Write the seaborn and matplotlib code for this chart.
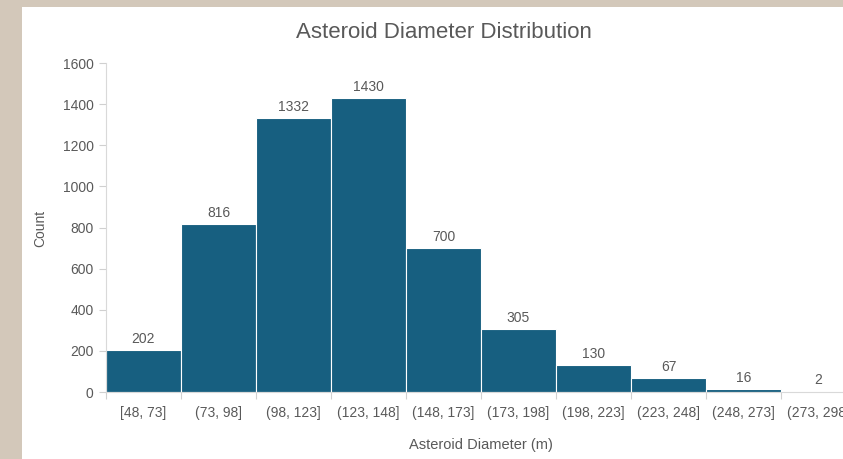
import matplotlib
matplotlib.use("Agg")
import matplotlib.pyplot as plt
import matplotlib.patches as mpatches
import seaborn as sns
import numpy as np

bins = ["[48, 73]", "(73, 98]", "(98, 123]", "(123, 148]", "(148, 173]",
        "(173, 198]", "(198, 223]", "(223, 248]", "(248, 273]", "(273, 298]"]
counts = [202, 816, 1332, 1430, 700, 305, 130, 67, 16, 2]
yticks = [0, 200, 400, 600, 800, 1000, 1200, 1400, 1600]

sns.set_style("white")
plt.rcParams['font.family'] = ['Liberation Sans', 'DejaVu Sans']

W, H = 843, 459
fig = plt.figure(figsize=(W / 100, H / 100), dpi=100, facecolor="#D3C8BA")
# white chart area
fig.patches.append(mpatches.Rectangle((22 / W, 0), 1 - 22 / W, 1 - 7 / H,
                                      transform=fig.transFigure, facecolor="white",
                                      edgecolor="none", zorder=-5))

ax = fig.add_axes([106 / W, (H - 392) / H, 750 / W, 329 / H])
ax.set_facecolor("none")
ax.set_zorder(2)

bar_color = "#175F80"
sns.barplot(x=bins, y=counts, color=bar_color, width=1.0, edgecolor="white",
            linewidth=0.8, saturation=1, ax=ax)

ax.set_xlim(-0.5, len(bins) - 0.5)
ax.set_ylim(0, 1600)
ax.set_yticks(yticks)
text_col = "#595959"
ax.set_yticklabels([str(v) for v in yticks], fontsize=10, color=text_col)

narrow = ['Liberation Sans Narrow', 'Liberation Sans', 'DejaVu Sans']

ax.set_xticks(np.arange(len(bins)))
ax.set_xticklabels(bins, fontsize=10, color=text_col, family=narrow)
ax.set_xticks(np.arange(len(bins) + 1) - 0.5, minor=True)
ax.tick_params(axis="x", which="major", bottom=True, length=0, pad=10)
ax.tick_params(axis="x", which="minor", bottom=True, length=5, color="#D0D0D0",
               width=0.8, direction="out")
ax.tick_params(axis="y", which="major", left=True, length=5, color="#D0D0D0",
               width=0.8, direction="out", pad=4)

for s in ["top", "right"]:
    ax.spines[s].set_visible(False)
for s in ["left", "bottom"]:
    ax.spines[s].set_color("#D9D9D9")
    ax.spines[s].set_linewidth(0.8)

for i, c in enumerate(counts):
    ax.annotate(str(c), (i, c), xytext=(0, 3), textcoords="offset points",
                ha="center", va="bottom", fontsize=10, color=text_col)

ax.set_xlabel("Asteroid Diameter (m)", fontsize=10.5, color=text_col, family=narrow, labelpad=13)
ax.set_ylabel("")
fig.text(40 / W, 1 - 228 / H, "Count", rotation=90, ha="center", va="center",
         fontsize=10, color=text_col)

fig.text(444 / W, 1 - 32.5 / H, "Asteroid Diameter Distribution", ha="center", va="center",
         fontsize=16, color=text_col, family=narrow)

fig.savefig("out.png", dpi=100, facecolor=fig.get_facecolor())
